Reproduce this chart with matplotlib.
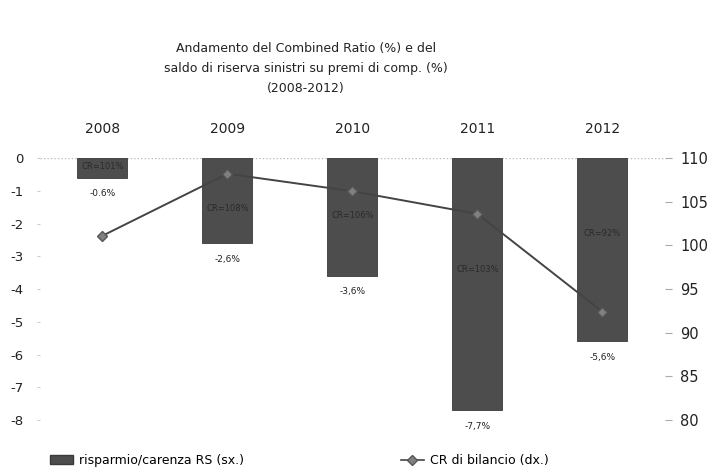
import matplotlib
matplotlib.use("Agg")
import matplotlib.pyplot as plt
from matplotlib.lines import Line2D
from matplotlib.patches import Patch

years = ["2008", "2009", "2010", "2011", "2012"]
saldo_rs = [-0.6, -2.6, -3.6, -7.7, -5.6]
saldo_labels = ["-0.6%", "-2,6%", "-3,6%", "-7,7%", "-5,6%"]
cr_bilancio = [101.1, 108.2, 106.2, 103.6, 92.4]
cr_labels = ["CR=101%", "CR=108%", "CR=106%", "CR=103%", "CR=92%"]
left_ticks = [0, -1, -2, -3, -4, -5, -6, -7, -8]
right_ticks = [110, 105, 100, 95, 90, 85, 80]

fig = plt.figure(figsize=(7.12, 4.71), dpi=100)
ax = fig.add_axes([0.056, 0.108, 0.878, 0.5565])
x = list(range(len(years)))

ax.bar(x, saldo_rs, width=0.4, color="#4d4d4d", edgecolor="#3a3a3a", linewidth=0.6, zorder=2)
ax.set_xlim(-0.5, 4.5)
ax.set_ylim(-8, 0)
ax.axhline(0, color="#bbbbbb", linestyle=(0, (1, 1.5)), linewidth=1.0, zorder=1)

ax.xaxis.tick_top()
ax.set_xticks(x)
ax.set_xticklabels(years, fontsize=10, color="#222222")
ax.tick_params(axis="x", length=0, pad=16)
ax.set_yticks(left_ticks)
ax.set_yticklabels([str(t) for t in left_ticks], fontsize=9.5, color="#222222")
ax.tick_params(axis="y", length=2, color="#cccccc", pad=10)
for s in ax.spines.values():
    s.set_visible(False)

for xi, v, lab in zip(x, saldo_rs, saldo_labels):
    ax.text(xi, v - 0.35, lab, ha="center", va="top", fontsize=6.5, color="#222222")

cr_label_y = [-0.25, -1.55, -1.75, -3.4, -2.3]
for xi, ly, lab in zip(x, cr_label_y, cr_labels):
    ax.text(xi, ly, lab, ha="center", va="center", fontsize=6, color="#2a2a2a", zorder=4)

ax2 = ax.twinx()
ax2.set_ylim(80, 110)
ax2.plot(x, cr_bilancio, color="#444444", linewidth=1.4, marker="D", markersize=5.5,
         markerfacecolor="#808080", markeredgecolor="#555555", zorder=3)
ax2.set_yticks(right_ticks)
ax2.set_yticklabels([str(t) for t in right_ticks], fontsize=10.5, color="#222222")
ax2.tick_params(axis="y", length=5, color="#aaaaaa", pad=6)
for s in ax2.spines.values():
    s.set_visible(False)

fig.text(0.43, 0.897, "Andamento del Combined Ratio (%) e del", ha="center", va="center", fontsize=9, color="#222222")
fig.text(0.43, 0.855, "saldo di riserva sinistri su premi di comp. (%)", ha="center", va="center", fontsize=9, color="#222222")
fig.text(0.43, 0.813, "(2008-2012)", ha="center", va="center", fontsize=9, color="#222222")

handles = [Patch(facecolor="#4d4d4d", edgecolor="#3a3a3a"),
           Line2D([0], [0], color="#444444", linewidth=1.2, marker="D", markersize=5,
                  markerfacecolor="#808080", markeredgecolor="#555555")]
fig.legend(handles[:1], ["risparmio/carenza RS (sx.)"], loc="center left",
           bbox_to_anchor=(0.058, 0.022), frameon=False, fontsize=9, handlelength=1.8,
           handletextpad=0.5, borderpad=0.2)
fig.legend(handles[1:], ["CR di bilancio (dx.)"], loc="center left",
           bbox_to_anchor=(0.551, 0.022), frameon=False, fontsize=9, handlelength=1.8,
           handletextpad=0.5, borderpad=0.2)

fig.savefig("out.png", dpi=100)
